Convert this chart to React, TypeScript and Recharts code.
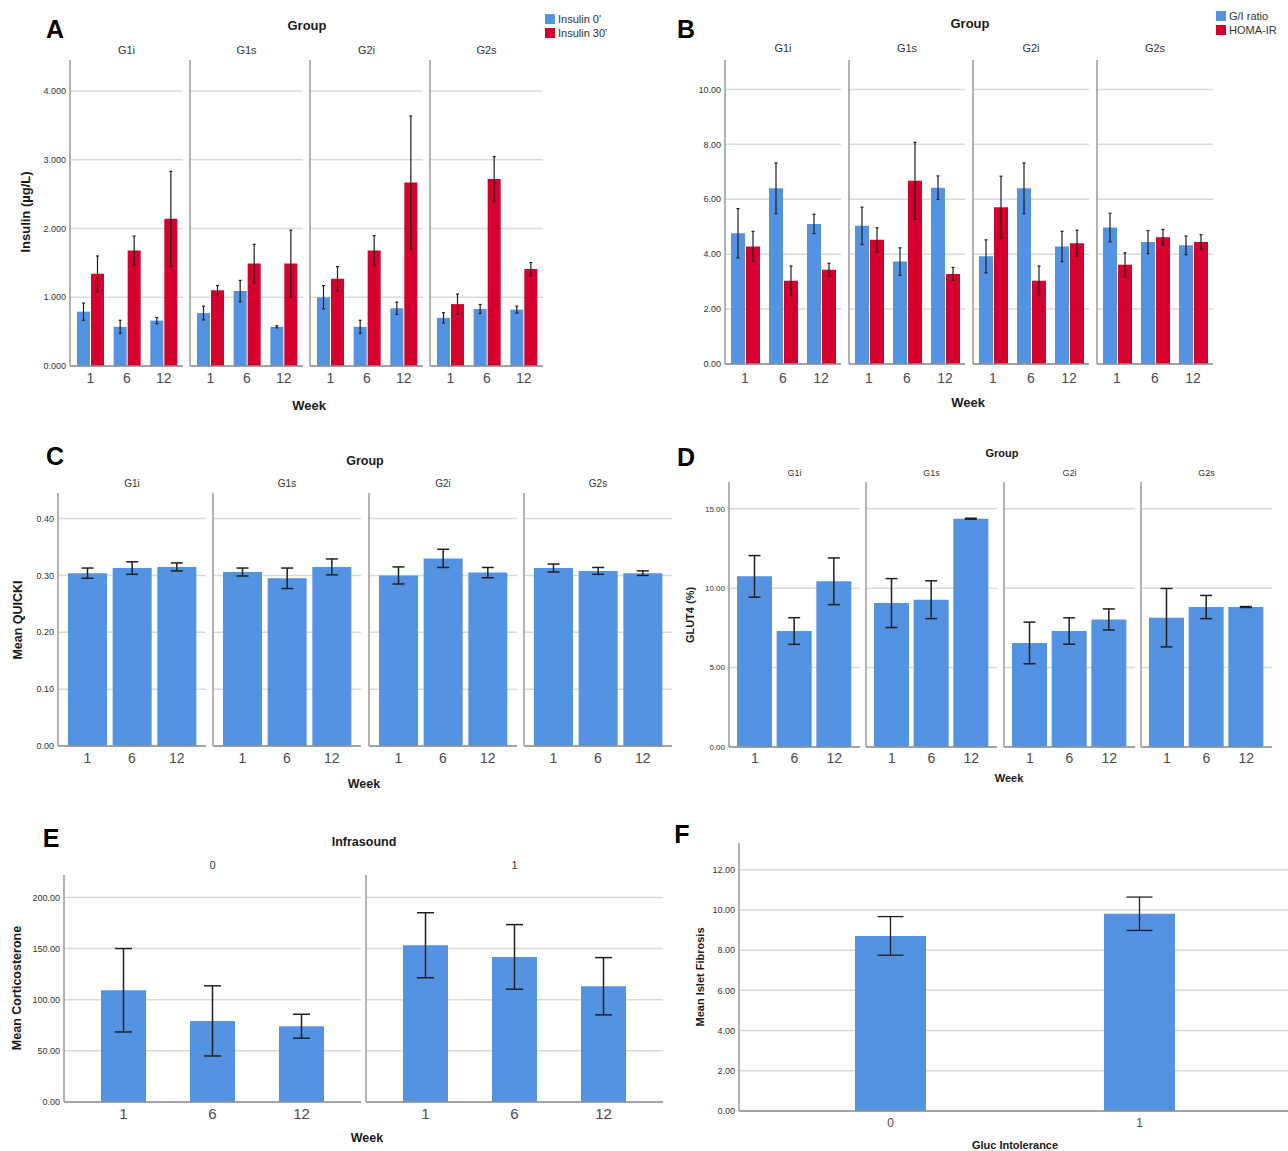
import React from "react";
import { BarChart, Bar, XAxis, YAxis, CartesianGrid, ErrorBar } from "recharts";

const weeks = ["1", "6", "12"];
const groups = ["G1i", "G1s", "G2i", "G2s"];
const infrasound = ["0", "1"];
const glucIntolerance = ["0", "1"];

// A: insulin (µg/L), one row per group, one value per week
const insulin0 = [
  [0.79, 0.57, 0.66],
  [0.77, 1.09, 0.57],
  [1.0, 0.57, 0.84],
  [0.7, 0.83, 0.82],
];
const insulin0Err = [
  [0.125, 0.095, 0.045],
  [0.1, 0.155, 0.015],
  [0.17, 0.095, 0.09],
  [0.075, 0.065, 0.05],
];
const insulin30 = [
  [1.34, 1.68, 2.14],
  [1.1, 1.49, 1.49],
  [1.27, 1.68, 2.67],
  [0.9, 2.72, 1.41],
];
const insulin30Err = [
  [0.26, 0.21, 0.69],
  [0.07, 0.28, 0.485],
  [0.175, 0.215, 0.965],
  [0.145, 0.325, 0.095],
];

// B: G/I ratio and HOMA-IR
const giRatio = [
  [4.76, 6.4, 5.1],
  [5.03, 3.73, 6.42],
  [3.92, 6.4, 4.28],
  [4.97, 4.44, 4.32],
];
const giRatioErr = [
  [0.9, 0.92, 0.35],
  [0.68, 0.5, 0.43],
  [0.6, 0.92, 0.55],
  [0.52, 0.42, 0.34],
];
const homaIr = [
  [4.28, 3.03, 3.43],
  [4.52, 6.67, 3.28],
  [5.71, 3.03, 4.4],
  [3.61, 4.62, 4.44],
];
const homaIrErr = [
  [0.55, 0.54, 0.24],
  [0.44, 1.4, 0.24],
  [1.13, 0.54, 0.47],
  [0.44, 0.28, 0.27],
];

// C: QUICKI
const quicki = [
  [0.304, 0.313, 0.315],
  [0.306, 0.295, 0.315],
  [0.3, 0.33, 0.305],
  [0.313, 0.308, 0.304],
];
const quickiErr = [
  [0.009, 0.011, 0.007],
  [0.007, 0.018, 0.014],
  [0.015, 0.016, 0.009],
  [0.007, 0.006, 0.004],
];

// D: GLUT4 (%)
const glut4 = [
  [10.74, 7.3, 10.43],
  [9.06, 9.27, 14.37],
  [6.55, 7.3, 8.03],
  [8.14, 8.81, 8.81],
];
const glut4Err = [
  [1.31, 0.84, 1.47],
  [1.54, 1.19, 0.03],
  [1.31, 0.83, 0.66],
  [1.84, 0.73, 0.03],
];

// E: corticosterone by infrasound
const corticosterone = [
  [109.3, 79.3, 74.1],
  [153.3, 141.9, 113.2],
];
const corticosteroneErr = [
  [40.8, 34.3, 11.7],
  [31.8, 31.6, 28.0],
];

// F: islet fibrosis by glucose intolerance
const fibrosis = [8.71, 9.81];
const fibrosisErr = [0.96, 0.83];

const insulinTicks = [0, 1, 2, 3, 4];
const ratioTicks = [0, 2, 4, 6, 8, 10];
const quickiTicks = [0, 0.1, 0.2, 0.3, 0.4];
const glutTicks = [0, 5, 10, 15];
const cortTicks = [0, 50, 100, 150, 200];
const fibrosisTicks = [0, 2, 4, 6, 8, 10, 12];

const BLUE = "#5493e2";
const RED = "#d5002e";
const FONT = '"Liberation Sans", Arial, Helvetica, sans-serif';

type Row = { cat: string; [k: string]: string | number };

const rows = (cats: string[], cols: [string, number[]][]): Row[] =>
  cats.map((c, i) => {
    const r: Row = { cat: c };
    cols.forEach(([k, v]) => (r[k] = v[i]));
    return r;
  });

const aData = groups.map((_, g) =>
  rows(weeks, [
    ["v0", insulin0[g]],
    ["e0", insulin0Err[g]],
    ["v1", insulin30[g]],
    ["e1", insulin30Err[g]],
  ])
);
const bData = groups.map((_, g) =>
  rows(weeks, [
    ["v0", giRatio[g]],
    ["e0", giRatioErr[g]],
    ["v1", homaIr[g]],
    ["e1", homaIrErr[g]],
  ])
);
const cData = groups.map((_, g) => rows(weeks, [["v0", quicki[g]], ["e0", quickiErr[g]]]));
const dData = groups.map((_, g) => rows(weeks, [["v0", glut4[g]], ["e0", glut4Err[g]]]));
const eData = infrasound.map((_, g) =>
  rows(weeks, [["v0", corticosterone[g]], ["e0", corticosteroneErr[g]]])
);
const fData = [rows(glucIntolerance, [["v0", fibrosis], ["e0", fibrosisErr]])];

type Series = { key: string; err: string; color: string };
const oneSeries: Series[] = [{ key: "v0", err: "e0", color: BLUE }];
const twoSeries: Series[] = [
  { key: "v0", err: "e0", color: BLUE },
  { key: "v1", err: "e1", color: RED },
];

type PanelSpec = {
  labels: string[];
  starts: number[];
  data: Row[][];
  top: number;
  plotW: number;
  plotH: number;
  yW: number;
  domain: [number, number];
  ticks: number[];
  decimals: number;
  series: Series[];
  barSize: number;
  barGap: number;
  padL: number;
  padR: number;
  xFont: number;
  yFont: number;
  xOff: number;
  capW: number;
  errW: number;
  facetY: number;
  facetFont: number;
};

const X_H = 30;
const noTick = () => <g />;

function Facet({ p, i }: { p: PanelSpec; i: number }) {
  const first = i === 0;
  // inner facets keep a 1px axis strip so the left frame line and grid are drawn
  const yW = first ? p.yW : 1;
  return (
    <div style={{ position: "absolute", left: p.starts[i] - yW, top: p.top }}>
      <BarChart
        width={p.plotW + yW}
        height={p.plotH + X_H}
        data={p.data[i]}
        margin={{ top: 0, right: 0, bottom: 0, left: 0 }}
        barGap={p.barGap}
      >
        <CartesianGrid vertical={false} stroke="#d9d9d9" strokeWidth={1.5} horizontalValues={p.ticks} />
        <XAxis
          dataKey="cat"
          height={X_H}
          interval={0}
          axisLine={{ stroke: "#8e8e8e", strokeWidth: 1.5 }}
          tickLine={false}
          tickSize={p.xOff - 2}
          tickMargin={2}
          padding={{ left: p.padL, right: p.padR }}
          tick={{ fontSize: p.xFont, fill: "#4a4a4a", fontFamily: FONT }}
        />
        <YAxis
          type="number"
          domain={p.domain}
          ticks={p.ticks}
          allowDataOverflow
          width={yW}
          axisLine={{ stroke: "#9a9a9a", strokeWidth: 1.5 }}
          tickLine={false}
          tickSize={2}
          tickMargin={2}
          tick={first ? { fontSize: p.yFont, fill: "#333", fontFamily: FONT } : noTick}
          tickFormatter={(v: number) => v.toFixed(p.decimals)}
        />
        {p.series.map((s) => (
          <Bar key={s.key} dataKey={s.key} fill={s.color} barSize={p.barSize} isAnimationActive={false}>
            <ErrorBar dataKey={s.err} width={p.capW} stroke="#1f1f1f" strokeWidth={p.errW} isAnimationActive={false} />
          </Bar>
        ))}
      </BarChart>
    </div>
  );
}

function Panel({ p }: { p: PanelSpec }) {
  return (
    <>
      {p.starts.map((_, i) => (
        <Facet key={i} p={p} i={i} />
      ))}
      {p.labels.map((l, i) => (
        <Txt key={l + i} x={p.starts[i] + p.plotW / 2} y={p.facetY} size={p.facetFont} color="#333">
          {l}
        </Txt>
      ))}
    </>
  );
}

function Txt({
  x,
  y,
  size,
  bold,
  rotate,
  color,
  children,
}: {
  x: number;
  y: number;
  size: number;
  bold?: boolean;
  rotate?: boolean;
  color?: string;
  children: React.ReactNode;
}) {
  return (
    <div
      style={{
        position: "absolute",
        left: x,
        top: y,
        transform: `translate(-50%, -50%)${rotate ? " rotate(-90deg)" : ""}`,
        fontSize: size,
        fontWeight: bold ? 700 : 400,
        color: color ?? "#1a1a1a",
        whiteSpace: "nowrap",
        lineHeight: 1,
        fontFamily: FONT,
      }}
    >
      {children}
    </div>
  );
}

function Legend({ x, y, items }: { x: number; y: number; items: { label: string; color: string }[] }) {
  return (
    <div style={{ position: "absolute", left: x, top: y, fontFamily: FONT, fontSize: 11, color: "#333" }}>
      {items.map((it) => (
        <div key={it.label} style={{ display: "flex", alignItems: "center", height: 14 }}>
          <span style={{ width: 10, height: 10, background: it.color, marginRight: 3 }} />
          <span>{it.label}</span>
        </div>
      ))}
    </div>
  );
}

const panelA: PanelSpec = {
  labels: groups, starts: [70, 190, 310, 430], data: aData, top: 60, plotW: 113, plotH: 306, yW: 36,
  domain: [0, 4.45], ticks: insulinTicks, decimals: 3, series: twoSeries, barSize: 13, barGap: 1,
  padL: 2, padR: 1, xFont: 14, yFont: 9, xOff: 7, capW: 1.5, errW: 1.2, facetY: 50, facetFont: 11,
};
const panelB: PanelSpec = {
  labels: groups, starts: [725, 849, 973, 1097], data: bData, top: 60, plotW: 116, plotH: 304, yW: 36,
  domain: [0, 11.07], ticks: ratioTicks, decimals: 2, series: twoSeries, barSize: 14, barGap: 1,
  padL: 1, padR: 1, xFont: 14, yFont: 9, xOff: 9, capW: 1.5, errW: 1.2, facetY: 48, facetFont: 11,
};
const panelC: PanelSpec = {
  labels: groups, starts: [58, 213, 369, 524], data: cData, top: 493, plotW: 148, plotH: 253, yW: 30,
  domain: [0, 0.445], ticks: quickiTicks, decimals: 2, series: oneSeries, barSize: 39, barGap: 0,
  padL: 7, padR: 7, xFont: 14, yFont: 9, xOff: 7, capW: 6, errW: 1.5, facetY: 484, facetFont: 10,
};
const panelD: PanelSpec = {
  labels: groups, starts: [729, 866, 1004, 1141], data: dData, top: 482, plotW: 131, plotH: 265, yW: 30,
  domain: [0, 16.68], ticks: glutTicks, decimals: 2, series: oneSeries, barSize: 35, barGap: 0,
  padL: 6, padR: 6, xFont: 14, yFont: 8, xOff: 6, capW: 6, errW: 1.5, facetY: 473, facetFont: 9,
};
const panelE: PanelSpec = {
  labels: infrasound, starts: [64, 366], data: eData, top: 875, plotW: 297, plotH: 227, yW: 36,
  domain: [0, 222], ticks: cortTicks, decimals: 2, series: oneSeries, barSize: 45, barGap: 0,
  padL: 15, padR: 15, xFont: 15, yFont: 9, xOff: 6, capW: 8.5, errW: 1.5, facetY: 865, facetFont: 11,
};
const panelF: PanelSpec = {
  labels: [], starts: [739], data: fData, top: 843, plotW: 552, plotH: 268, yW: 34,
  domain: [0, 13.33], ticks: fibrosisTicks, decimals: 2, series: oneSeries, barSize: 71, barGap: 0,
  padL: 27, padR: 27, xFont: 12, yFont: 9, xOff: 7, capW: 13, errW: 1.3, facetY: 0, facetFont: 10,
};

export default function App() {
  return (
    <div
      style={{
        position: "absolute",
        left: 0,
        top: 0,
        width: 1288,
        height: 1151,
        overflow: "hidden",
        background: "#fff",
        fontFamily: FONT,
      }}
    >
      {/* A */}
      <Panel p={panelA} />
      <Txt x={55} y={29} size={25} bold color="#000">A</Txt>
      <Txt x={307} y={25} size={13} bold>Group</Txt>
      <Txt x={25} y={212} size={13} bold rotate>Insulin (µg/L)</Txt>
      <Txt x={309} y={405} size={13} bold>Week</Txt>
      <Legend x={545} y={12} items={[{ label: "Insulin 0'", color: BLUE }, { label: "Insulin 30'", color: RED }]} />

      {/* B */}
      <Panel p={panelB} />
      <Txt x={686} y={29} size={25} bold color="#000">B</Txt>
      <Txt x={970} y={23} size={13} bold>Group</Txt>
      <Txt x={968} y={402} size={13} bold>Week</Txt>
      <Legend x={1216} y={9} items={[{ label: "G/I ratio", color: BLUE }, { label: "HOMA-IR", color: RED }]} />

      {/* C */}
      <Panel p={panelC} />
      <Txt x={55} y={456} size={25} bold color="#000">C</Txt>
      <Txt x={365} y={461} size={12.5} bold>Group</Txt>
      <Txt x={18} y={620} size={12.5} bold rotate>Mean QUICKI</Txt>
      <Txt x={364} y={784} size={12.5} bold>Week</Txt>

      {/* D */}
      <Panel p={panelD} />
      <Txt x={686} y={457} size={25} bold color="#000">D</Txt>
      <Txt x={1002} y={453} size={11} bold>Group</Txt>
      <Txt x={690} y={615} size={11} bold rotate>GLUT4 (%)</Txt>
      <Txt x={1009} y={778} size={11} bold>Week</Txt>

      {/* E */}
      <Panel p={panelE} />
      <Txt x={51} y={838} size={25} bold color="#000">E</Txt>
      <Txt x={364} y={842} size={12.5} bold>Infrasound</Txt>
      <Txt x={17} y={988} size={12.5} bold rotate>Mean Corticosterone</Txt>
      <Txt x={367} y={1138} size={12.5} bold>Week</Txt>

      {/* F */}
      <Panel p={panelF} />
      <Txt x={682} y={834} size={25} bold color="#000">F</Txt>
      <Txt x={700} y={977} size={11} bold rotate>Mean Islet Fibrosis</Txt>
      <Txt x={1015} y={1145} size={11} bold>Gluc Intolerance</Txt>
    </div>
  );
}
